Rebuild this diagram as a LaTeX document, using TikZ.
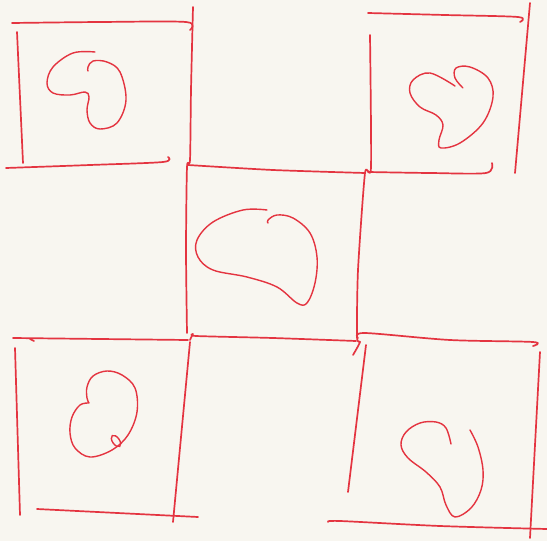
\documentclass[tikz,border=0pt]{standalone}
\definecolor{paper}{RGB}{248,246,240}
\definecolor{ink}{RGB}{228,52,64}
\tikzset{
  pen/.style={draw=ink, line width=1.7pt, line cap=round, line join=round},
  blob/.style={draw=ink, line width=1.4pt, line cap=round},
}
\begin{document}
\begin{tikzpicture}[x=1pt,y=-1pt]
\fill[paper] (0,0) rectangle (547,541);
\useasboundingbox (0,0) rectangle (547,541);
% ---- top-left box
\draw[pen] plot[smooth,tension=0.5] coordinates {(12,23) (100,22) (186,22) (190,30)};
\draw[pen] (17,32) -- (23,163);
\draw[pen] plot[smooth,tension=0.5] coordinates {(6,168) (90,165) (163,162) (168,157)};
% ---- long vertical left of centre
\draw[pen] plot[smooth,tension=0.4] coordinates {(193,7) (191,90) (190,160) (187,167) (186,250) (187,333)};
% ---- horizontal top of centre
\draw[pen] plot[smooth,tension=0.4] coordinates {(188,165) (273,170) (365,173)};
% ---- vertical right of centre
\draw[pen] plot[smooth,tension=0.4] coordinates {(370,35) (371,167) (365,173) (358,270) (357,337) (360,342) (353,355)};
% ---- top-right box
\draw[pen] plot[smooth,tension=0.5] coordinates {(368,13) (445,15) (518,17) (520,22)};
\draw[pen] (530,3) -- (515,173);
\draw[pen] plot[smooth,tension=0.5] coordinates {(368,172) (430,173) (486,173) (492,163)};
% ---- centre bottom / middle horizontal
\draw[pen] (13,338) -- (188,340);
\draw[pen] (30,339) -- (34,341);
\draw[pen] plot[smooth,tension=0.4] coordinates {(190,340) (193,334) (196,336) (273,338) (356,341)};
\draw[pen] plot[smooth,tension=0.5] coordinates {(358,338) (365,333) (450,340) (533,342) (533,346)};
% ---- bottom-left box
\draw[pen] (15,348) -- (20,515);
\draw[pen] (190,342) -- (173,522);
\draw[pen] (37,509) -- (198,517);
% ---- bottom-right box
\draw[pen] (366,345) -- (348,492);
\draw[pen] (540,352) -- (530,538);
\draw[pen] plot[smooth,tension=0.5] coordinates {(328,522) (340,521) (440,526) (547,529)};
% ---- blob top-left
\draw[blob] plot[smooth,tension=0.6] coordinates {(95,52) (73,53) (53,67) (47,83) (53,93) (70,95) (85,92) (89,97) (87,110) (90,123) (100,129) (117,123) (126,100) (120,72) (107,62) (93,61) (88,67) (88,71)};
% ---- blob top-right
\draw[blob] plot[smooth,tension=0.6] coordinates {(455,86) (430,73) (413,80) (410,93) (420,107) (436,115) (443,125) (439,140) (441,148) (460,143) (483,123) (493,97) (488,78) (470,67) (456,68) (455,78) (463,88)};
% ---- blob centre
\draw[blob] plot[smooth,tension=0.6] coordinates {(267,210) (243,210) (213,222) (197,240) (198,257) (213,270) (247,277) (277,287) (297,303) (307,303) (315,283) (317,257) (310,233) (293,218) (277,215) (268,220) (268,223)};
% ---- blob bottom-left
\draw[blob] plot[smooth,tension=0.6] coordinates {(89,403) (80,405) (72,417) (70,433) (75,448) (90,457) (112,450) (128,435) (137,412) (135,388) (122,375) (107,371) (93,376) (87,387) (87,398) (89,403)};
\draw[blob] (116,441) ellipse[x radius=6.5, y radius=3.5, rotate=-55];
% ---- blob bottom-right
\draw[blob] plot[smooth,tension=0.6] coordinates {(451,444) (446,428) (436,422) (420,423) (406,432) (401,445) (408,458) (426,472) (440,487) (446,505) (455,517) (471,508) (481,490) (483,470) (478,447) (470,430)};
\end{tikzpicture}
\end{document}
